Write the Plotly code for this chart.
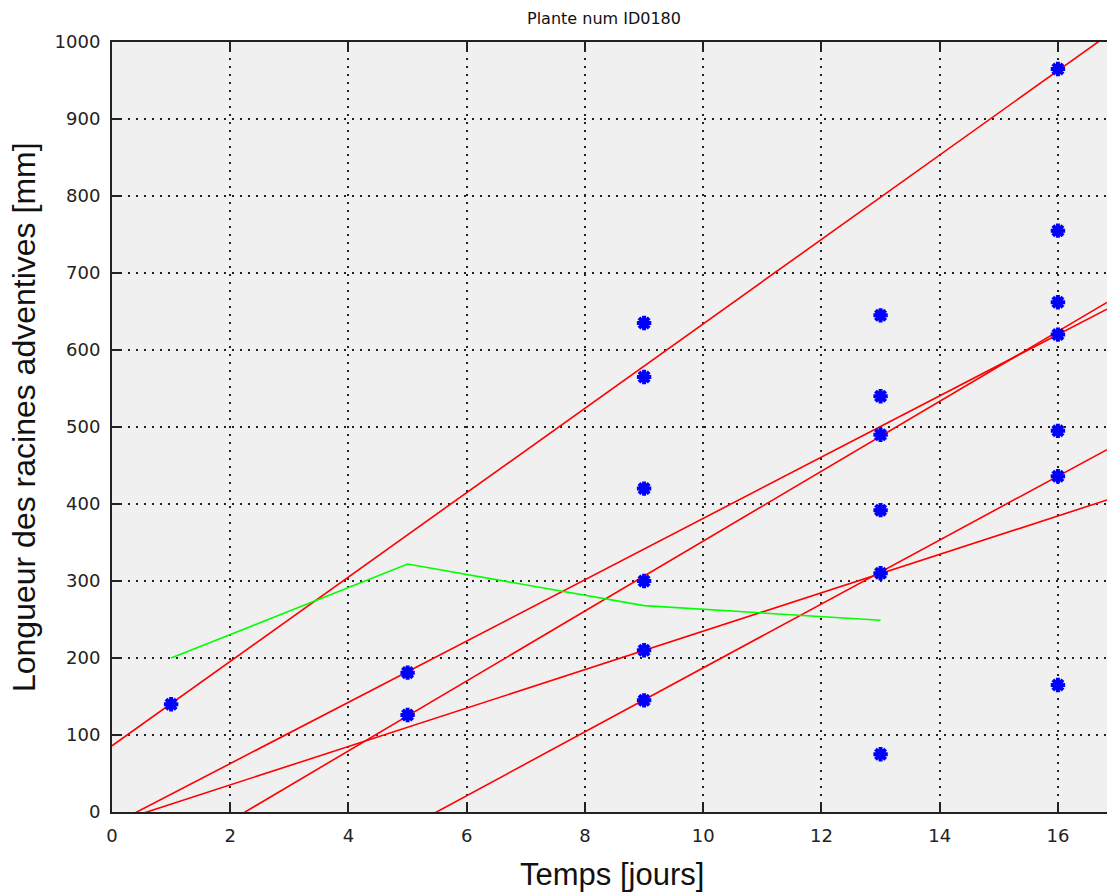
import numpy as np
import plotly.graph_objects as go

# Measurement days and root lengths (mm) observed on each day
days = [1, 5, 9, 13, 16]
lengths_by_day = [
    [140],
    [181, 126],
    [635, 565, 420, 300, 210, 145],
    [645, 540, 490, 392, 310, 75],
    [965, 755, 662, 620, 495, 436, 165],
]

# Linear growth fits for individual roots: length = intercept + slope * t
fit_intercepts = [86.0, -16.7, -102.2, -14.7, -227.8]
fit_slopes = [54.8, 39.8, 45.4, 24.95, 41.5]

# Reference curve
ref_days = [1, 5, 9, 13]
ref_lengths = [200, 322, 268, 249]

x_max = 16.83
x_ticks = [0, 2, 4, 6, 8, 10, 12, 14, 16]
y_ticks = [0, 100, 200, 300, 400, 500, 600, 700, 800, 900, 1000]

fig = go.Figure()

t_line = np.array([0.0, x_max])
for b, a in zip(fit_intercepts, fit_slopes):
    fig.add_trace(go.Scatter(
        x=t_line, y=b + a * t_line, mode="lines",
        line=dict(color="#ff0000", width=1.6), showlegend=False, hoverinfo="skip",
    ))

pts_x = [d for d, vals in zip(days, lengths_by_day) for _ in vals]
pts_y = [v for vals in lengths_by_day for v in vals]
fig.add_trace(go.Scatter(
    x=pts_x, y=pts_y, mode="markers",
    marker=dict(symbol="asterisk-open", size=12, color="#0000ff",
                line=dict(color="#0000ff", width=4)),
    showlegend=False, cliponaxis=False,
))

fig.add_trace(go.Scatter(
    x=ref_days, y=ref_lengths, mode="lines",
    line=dict(color="#00ff00", width=1.6), showlegend=False,
))

axis_common = dict(
    showline=True, linecolor="#222222", linewidth=2,
    ticks="inside", ticklen=8, tickwidth=2, tickcolor="#222222",
    showgrid=True, gridcolor="#222222", gridwidth=2, griddash="2px,6px",
    zeroline=False,
    tickfont=dict(family="DejaVu Sans", size=18, color="#222222"),
    ticklabelstandoff=6,
)

fig.update_xaxes(
    range=[0, x_max], tickvals=x_ticks, ticktext=[str(v) for v in x_ticks],
    mirror="ticks", **axis_common,
)
fig.update_yaxes(
    range=[0, 1000], tickvals=y_ticks, ticktext=[str(v) for v in y_ticks],
    mirror=False, **axis_common,
)

fig.update_layout(
    width=1107, height=892,
    margin=dict(l=112, r=0, t=42, b=80),
    paper_bgcolor="white", plot_bgcolor="#f0f0f0",
    annotations=[
        dict(text="Plante num ID0180", xref="paper", yref="paper",
             x=0.4945, y=1.031, xanchor="center", yanchor="middle", showarrow=False,
             font=dict(family="DejaVu Sans", size=16, color="#111111")),
        dict(text="Temps [jours]", xref="paper", yref="paper",
             x=0.503, y=-0.0818, xanchor="center", yanchor="middle", showarrow=False,
             font=dict(family="Liberation Sans", size=31, color="#111111")),
        dict(text="Longueur des racines adventives [mm]", xref="paper", yref="paper",
             x=-0.0884, y=0.513, xanchor="center", yanchor="middle", showarrow=False,
             textangle=-90,
             font=dict(family="Liberation Sans", size=32, color="#111111")),
    ],
)

fig.write_html("out.html")
